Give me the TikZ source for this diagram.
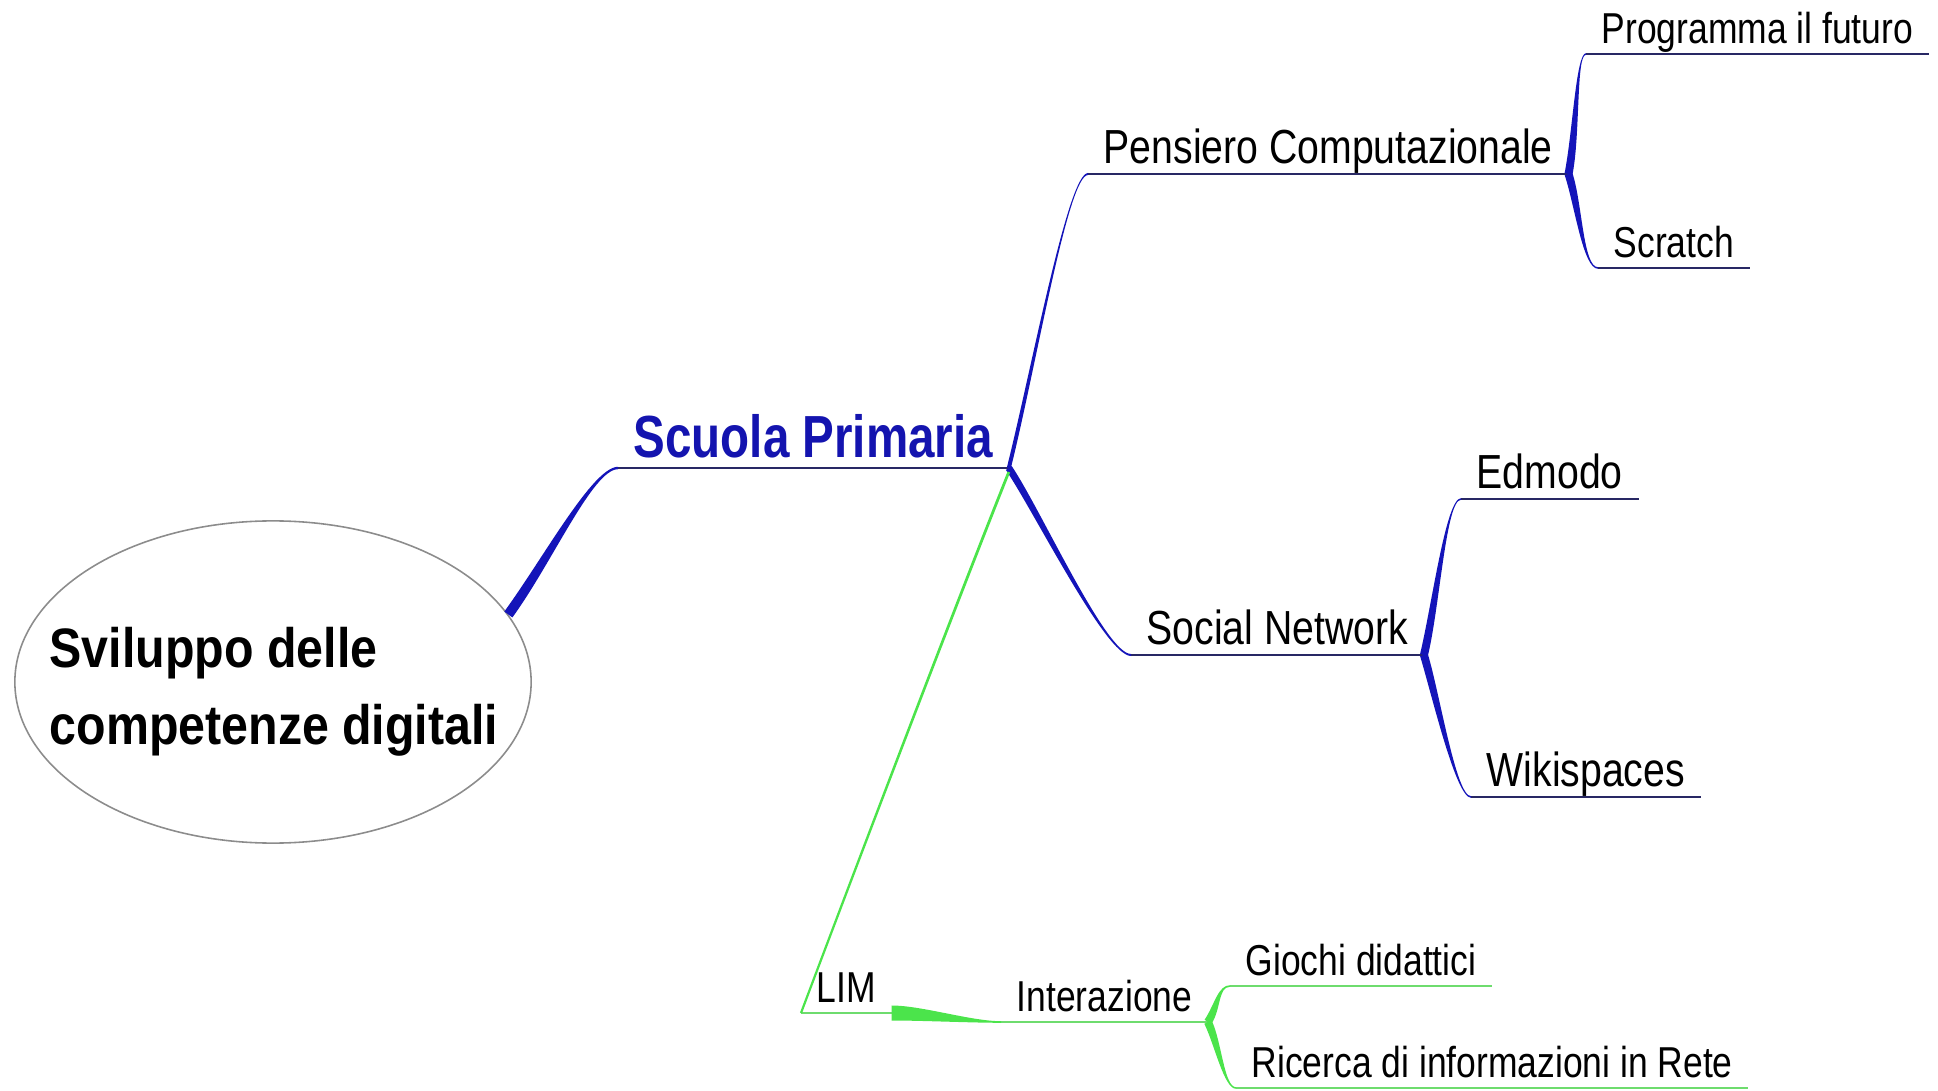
\documentclass[tikz,border=0pt]{standalone}
\usepackage{fontspec}
\usetikzlibrary{calc,shapes.geometric}
\newfontfamily\lblfont{Liberation Sans}[FakeStretch=0.82]
\newfontfamily\spfont{Liberation Sans}[FakeStretch=0.80]
\newfontfamily\rootfont{Liberation Sans}[FakeStretch=0.87]

\definecolor{branchblue}{RGB}{20,20,185}
\definecolor{lineblue}{RGB}{40,40,100}
\definecolor{titleblue}{RGB}{20,20,175}
\definecolor{branchgreen}{RGB}{75,228,75}
\definecolor{linegreen}{RGB}{110,220,110}
\definecolor{rimgray}{RGB}{140,140,140}

% tapered branch: #1 style, #2 start, #3 end, #4 start handle, #5 end handle,
% #6 half width at start, #7 half width at end
\newcommand\taper[7][]{%
  \coordinate (tpA) at (#2);
  \coordinate (tpB) at (#3);
  \coordinate (tpC) at ($(tpA)+#4$);
  \coordinate (tpD) at ($(tpB)+#5$);
  \fill[#1] ($(tpA)!#6!90:(tpC)$) .. controls ($(tpC)!#6!-90:(tpA)$) and ($(tpD)!#7!90:(tpB)$) .. ($(tpB)!#7!-90:(tpD)$)
     -- ($(tpB)!#7!90:(tpD)$) .. controls ($(tpD)!#7!-90:(tpB)$) and ($(tpC)!#6!90:(tpA)$) .. ($(tpA)!#6!-90:(tpC)$) -- cycle;
}

\tikzset{
  lbl/.style={anchor=south west, inner xsep=0.15cm, inner ysep=0.1cm, text depth=0pt},
  big/.style={lbl, font=\lblfont\fontsize{13.6}{16}\selectfont},
  small/.style={lbl, font=\lblfont\fontsize{12.3}{15}\selectfont},
  title/.style={lbl, text=titleblue, font=\spfont\bfseries\fontsize{16.9}{20}\selectfont},
  uline/.style={draw=lineblue, line width=0.6pt},
  gline/.style={draw=linegreen, line width=0.6pt},
}

\begin{document}
\begin{tikzpicture}[x=0.01cm, y=-0.01cm]
\useasboundingbox (0,0) rectangle (1938,1091);

% central topic
\node[ellipse, draw=rimgray, line width=0.45pt, minimum width=5.16cm, minimum height=3.22cm,
      inner sep=0pt] (root) at (273,682) {};
\node[anchor=west, align=left, inner sep=0pt,
      font=\rootfont\bfseries\fontsize{15.8}{21.9}\selectfont]
  (roottext) at (49,692) {Sviluppo delle\\competenze digitali};

% labels
\node[title] (sp)   at (618,468)  {Scuola Primaria};
\node[big]   (pc)   at (1088,174) {Pensiero Computazionale};
\node[small] (prog) at (1586,54)  {Programma il futuro};
\node[small] (scr)  at (1598,268) {Scratch};
\node[big]   (sn)   at (1131,655) {Social Network};
\node[big]   (edm)  at (1461,499) {Edmodo};
\node[big]   (wiki) at (1471,797) {Wikispaces};
\node[small] (lim)  at (801,1013) {LIM};
\node[small] (int)  at (1001,1022) {Interazione};
\node[small] (gio)  at (1230,986) {Giochi didattici};
\node[small] (ric)  at (1236,1088) {Ricerca di informazioni in Rete};

% underlines
\foreach \n in {sp,pc,prog,scr,sn,edm,wiki}
  \draw[uline] (\n.south west) -- (\n.south east);
\foreach \n in {lim,int,gio,ric}
  \draw[gline] (\n.south west) -- (\n.south east);

% blue branches
\taper[branchblue]{root.16}{sp.south west}{(40,-55)}{(-25,0)}{0.05cm}{0.012cm}
\taper[branchblue]{sp.south east}{pc.south west}{(25,-100)}{(-20,0)}{0.02cm}{0.01cm}
\taper[branchblue]{sp.south east}{sn.south west}{(30,45)}{(-25,0)}{0.035cm}{0.01cm}
\taper[branchblue]{pc.south east}{prog.south west}{(8,-40)}{(-10,0)}{0.04cm}{0.008cm}
\taper[branchblue]{pc.south east}{scr.south west}{(10,30)}{(-15,0)}{0.04cm}{0.008cm}
\taper[branchblue]{sn.south east}{edm.south west}{(12,-50)}{(-15,0)}{0.04cm}{0.008cm}
\taper[branchblue]{sn.south east}{wiki.south west}{(12,40)}{(-15,0)}{0.04cm}{0.008cm}

% green branches
\taper[branchgreen]{$(sp.south east)+(0,4)$}{lim.south west}{(-60,150)}{(30,-80)}{0.014cm}{0.011cm}
\taper[branchgreen]{lim.south east}{int.south west}{(30,0)}{(-30,0)}{0.075cm}{0.008cm}
\taper[branchgreen]{int.south east}{gio.south west}{(10,-15)}{(-12,0)}{0.04cm}{0.008cm}
\taper[branchgreen]{int.south east}{ric.south west}{(10,20)}{(-12,0)}{0.04cm}{0.008cm}
\end{tikzpicture}
\end{document}
